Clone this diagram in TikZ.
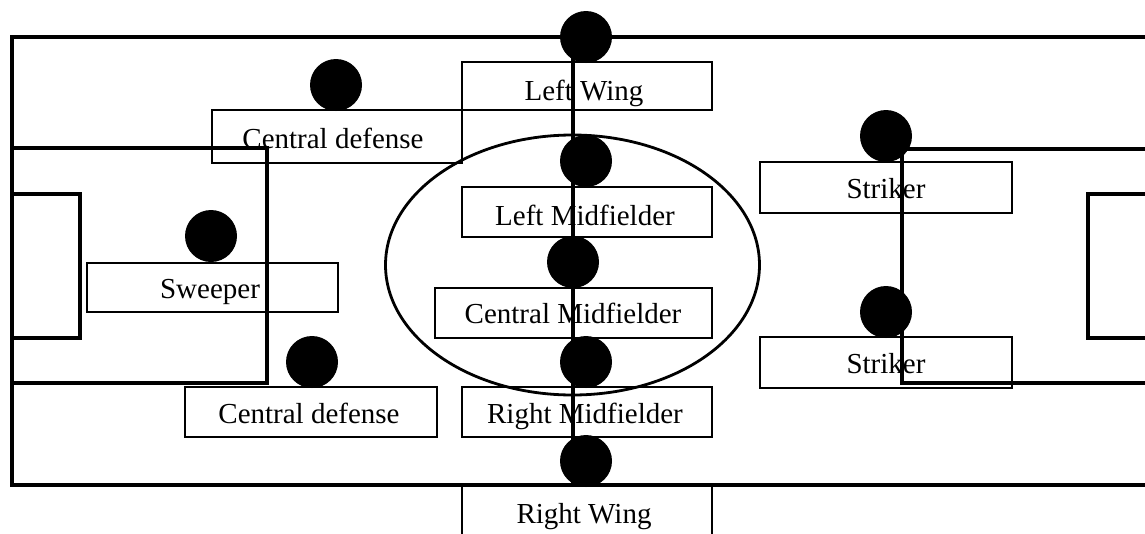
\documentclass[tikz,border=0pt]{standalone}
\usepackage{fontspec}
\setmainfont{Liberation Serif}
\begin{document}
\begin{tikzpicture}[x=1pt,y=-1pt,
  fieldline/.style={line width=4.5pt, line join=miter},
  lbox/.style={draw, line width=1.8pt, rectangle, inner sep=0pt, outer sep=0pt},
  lbl/.style={anchor=base, inner sep=0pt, font=\fontsize{29}{30}\selectfont},
  player/.style={circle, fill=black, minimum size=52pt, inner sep=0pt, outer sep=0pt}]
\path[use as bounding box, clip] (0,0) rectangle (1145,533);
\fill[white] (0,0) rectangle (1145,533);
% field
\draw[fieldline] (1150,37) -- (12,37) -- (12,485) -- (1150,485);
\draw[fieldline] (12,148) -- (267,148) -- (267,383) -- (12,383);
\draw[fieldline] (12,194) -- (80,194) -- (80,338) -- (12,338);
\draw[fieldline] (1150,149) -- (902,149) -- (902,383) -- (1150,383);
\draw[fieldline] (1150,194) -- (1088,194) -- (1088,338) -- (1150,338);
\draw[line width=2.8pt] (572.5,265) ellipse [x radius=187, y radius=130];
% boxes
\node[lbox, minimum width=250pt, minimum height=48pt] (lwb) at (587,86) {};
\node[lbox, minimum width=250pt, minimum height=53pt] (cd1b) at (337,136.5) {};
\node[lbox, minimum width=250pt, minimum height=50pt] (lmb) at (587,212) {};
\node[lbox, minimum width=277pt, minimum height=50pt] (cmb) at (573.5,313) {};
\node[lbox, minimum width=250pt, minimum height=50pt] (rmb) at (587,412) {};
\node[lbox, minimum width=250pt, minimum height=70pt] (rwb) at (587,520) {};
\node[lbox, minimum width=251pt, minimum height=49pt] (swb) at (212.5,287.5) {};
\node[lbox, minimum width=252pt, minimum height=50pt] (cd2b) at (311,412) {};
\node[lbox, minimum width=252pt, minimum height=51pt] (st1b) at (886,187.5) {};
\node[lbox, minimum width=252pt, minimum height=51pt] (st2b) at (886,362.5) {};
% labels
\node[lbl] (lwt) at (584,100) {Left Wing};
\node[lbl] (cd1t) at (333,148) {Central defense};
\node[lbl] (lmt) at (585,225) {Left Midfielder};
\node[lbl] (cmt) at (573,323) {Central Midfielder};
\node[lbl] (rmt) at (585,423) {Right Midfielder};
\node[lbl] (rwt) at (584,523) {Right Wing};
\node[lbl] (swt) at (210,298) {Sweeper};
\node[lbl] (cd2t) at (309,423) {Central defense};
\node[lbl] (st1t) at (886,198) {Striker};
\node[lbl] (st2t) at (886,373) {Striker};
% centre line
\coordinate (ctop) at (573,37);
\coordinate (cbot) at (573,485);
\draw[line width=4.5pt] (ctop) -- (cbot);
% players
\node[player] (cd1) at (336,85) {};
\node[player] (sw) at (211,236) {};
\node[player] (cd2) at (312,362) {};
\node[player] (lw) at (586,37) {};
\node[player] (lm) at (586,161) {};
\node[player] (cm) at (573,262) {};
\node[player] (rm) at (586,362) {};
\node[player] (rw) at (586,461) {};
\node[player] (st1) at (886,136) {};
\node[player] (st2) at (886,312) {};
\end{tikzpicture}
\end{document}
